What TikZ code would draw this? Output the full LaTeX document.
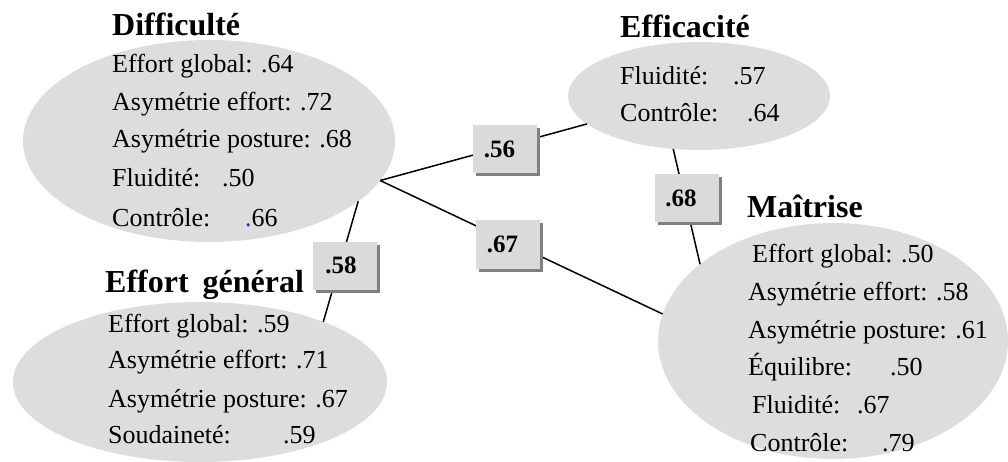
\documentclass[tikz,border=0pt]{standalone}
\usepackage{fontspec}
\setmainfont{Liberation Serif}
\usetikzlibrary{shapes.geometric,shadows}
\definecolor{ellgray}{RGB}{221,221,221}
\definecolor{boxgray}{RGB}{218,218,218}
\definecolor{shadowgray}{RGB}{128,128,128}
\definecolor{dotblue}{RGB}{40,40,200}
\newcommand\pairval[3]{\makebox[#1][l]{#2}#3}
\begin{document}
\begin{tikzpicture}[x=1pt,y=-1pt,
  factor/.style={ellipse, fill=ellgray, inner sep=0pt, outer sep=0pt},
  link/.style={line width=1.5pt, black},
  coef/.style={fill=boxgray, minimum width=64pt, minimum height=48pt, inner sep=0pt,
    font=\fontsize{25}{25}\selectfont\bfseries,
    drop shadow={shadow xshift=3pt, shadow yshift=-3pt, fill=shadowgray, opacity=1}},
  title/.style={anchor=base west, inner sep=0pt, font=\fontsize{32}{32}\selectfont\bfseries},
  item/.style={anchor=base west, inner sep=0pt, font=\fontsize{26}{26}\selectfont}
]
\useasboundingbox (0,0) rectangle (1008,462);

% factor ellipses
\node[factor, minimum width=372pt, minimum height=202pt] (dif) at (209,141) {};
\node[factor, minimum width=262pt, minimum height=108pt] (eff) at (699,96) {};
\node[factor, minimum width=374pt, minimum height=160pt] (gen) at (200,382) {};
\node[factor, minimum width=350pt, minimum height=236pt] (mai) at (833,341) {};

% connectors
\draw[link] (dif.-13.6) -- (eff.-166.2);
\draw[link] (dif.-13.6) -- (mai.171);
\draw[link] (dif.-22.3) -- (gen.26.4);
\draw[link] (eff.-116.6) -- (mai.150.6);

% coefficient boxes
\node[coef] (c56) at (504.5,149) {.56\kern10pt};
\node[coef] (c67) at (507.5,244.5) {.67\kern10pt};
\node[coef] (c58) at (345,265.5) {.58\kern8pt};
\node[coef] (c68) at (687,198) {.68\kern12pt};

% Difficulté
\node[title] (tdif) at (112,36) {Difficulté};
\node[item] (d1) at (112,73) {Effort global: .64};
\node[item] (d2) at (112,111) {Asymétrie effort: .72};
\node[item] (d3) at (112,148) {Asymétrie posture: .68};
\node[item] (d4) at (112,187) {\pairval{110pt}{Fluidité:}{.50}};
\node[item] (d5) at (112,227) {\pairval{133pt}{Contrôle:}{\textcolor{dotblue}{.}66}};

% Efficacité
\node[title] (teff) at (620,38) {Efficacité};
\node[item] (e1) at (620,85) {\pairval{113pt}{Fluidité:}{.57}};
\node[item] (e2) at (620,122) {\pairval{127pt}{Contrôle:}{.64}};

% Effort général
\node[title] (tgen) at (105,292) {Effort\hspace{14pt}général};
\node[item] (g1) at (108,332) {Effort global: .59};
\node[item] (g2) at (108,368) {Asymétrie effort: .71};
\node[item] (g3) at (108,407) {Asymétrie posture: .67};
\node[item] (g4) at (108,443) {\pairval{175pt}{Soudaineté:}{.59}};

% Maîtrise
\node[title] (tmai) at (747,218) {Maîtrise};
\node[item] (m1) at (752,262) {Effort global: .50};
\node[item] (m2) at (748,300) {Asymétrie effort: .58};
\node[item] (m3) at (748,338) {Asymétrie posture: .61};
\node[item] (m4) at (748,375) {\pairval{142pt}{Équilibre:}{.50}};
\node[item] (m5) at (752,413) {\pairval{105pt}{Fluidité:}{.67}};
\node[item] (m6) at (750,451) {\pairval{132pt}{Contrôle:}{.79}};
\end{tikzpicture}
\end{document}
